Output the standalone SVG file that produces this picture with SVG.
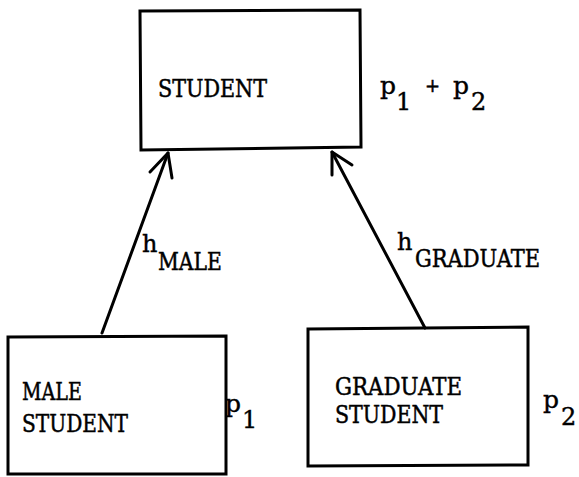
<svg xmlns="http://www.w3.org/2000/svg" width="579" height="477" viewBox="0 0 579 477">
<style>
.box{fill:#fff;stroke:#000;stroke-width:3;stroke-linejoin:miter}
.t{font-family:"DejaVu Serif","Liberation Serif",serif;font-size:24px;fill:#000;stroke:#000;stroke-width:0.5}
.p{font-family:"DejaVu Serif","Liberation Serif",serif;font-size:25px;fill:#000;stroke:#000;stroke-width:0.4}
.d{font-family:"DejaVu Serif","Liberation Serif",serif;font-size:24px;fill:#000;stroke:#000;stroke-width:0.4}
.s{font-family:"DejaVu Serif","Liberation Serif",serif;font-size:18px;fill:#000;stroke:#000;stroke-width:0.5}
.c{fill:none;stroke:#000;stroke-width:3;stroke-linecap:round;stroke-linejoin:round}
</style>
<rect width="579" height="477" fill="#fff"/>
<g id="student">
<path class="box" d="M140,11 L360,10 L361,147 L141,150 Z"/>
<text class="t" x="158" y="97" textLength="109" lengthAdjust="spacingAndGlyphs">STUDENT</text>
<text class="p" x="380" y="94">p</text><text class="d" x="396" y="110">1</text>
<text class="s" x="425" y="92">+</text>
<text class="p" x="453" y="94">p</text><text class="d" x="471" y="110">2</text>
</g>
<g id="male-student">
<path class="box" d="M8,337 L226,336 L226,474 L8,474 Z"/>
<text class="t" x="22" y="400" textLength="60" lengthAdjust="spacingAndGlyphs">MALE</text>
<text class="t" x="22" y="432" textLength="106" lengthAdjust="spacingAndGlyphs">STUDENT</text>
<text class="p" x="225" y="412">p</text><text class="d" x="242" y="428">1</text>
</g>
<g id="graduate-student">
<path class="box" d="M308,329 L528,327 L528,465 L308,466 Z"/>
<text class="t" x="335" y="395" textLength="127" lengthAdjust="spacingAndGlyphs">GRADUATE</text>
<text class="t" x="335" y="423" textLength="108" lengthAdjust="spacingAndGlyphs">STUDENT</text>
<text class="p" x="543" y="408">p</text><text class="d" x="561" y="425">2</text>
</g>
<g id="connectors">
<path class="c" d="M102,333 L168,153"/>
<path class="c" d="M150,172 L168,153 L172,178"/>
<text class="d" x="142" y="252">h</text>
<text class="t" x="158" y="270" textLength="64" lengthAdjust="spacingAndGlyphs">MALE</text>
<path class="c" d="M425,328 L332,152"/>
<path class="c" d="M332,175 L332,152 L352,165"/>
<text class="d" x="397" y="250">h</text>
<text class="t" x="415" y="267" textLength="125" lengthAdjust="spacingAndGlyphs">GRADUATE</text>
</g>
</svg>
